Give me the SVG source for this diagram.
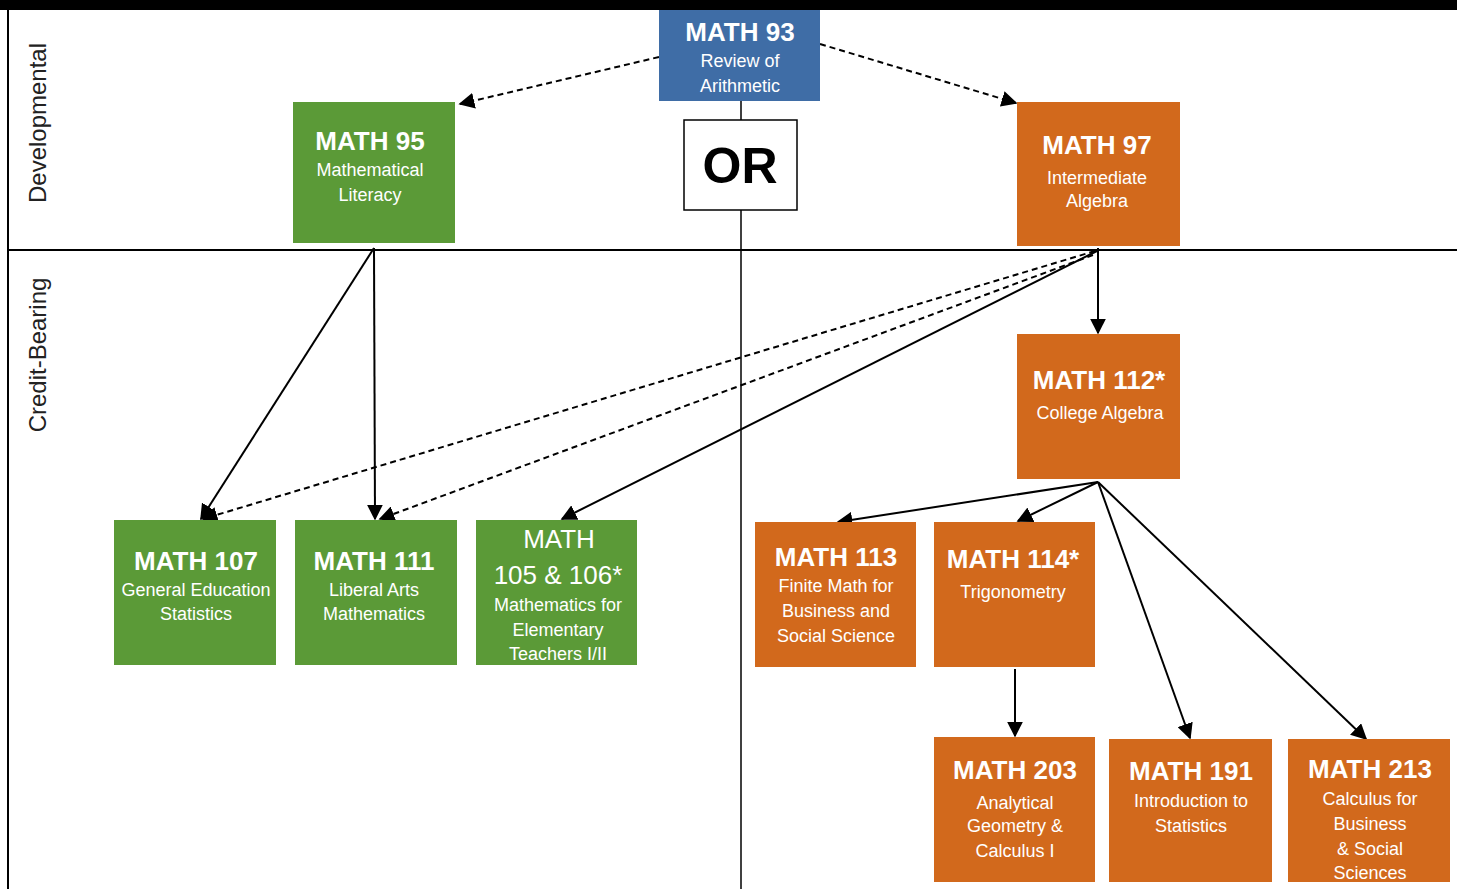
<svg xmlns="http://www.w3.org/2000/svg" width="1457" height="889" viewBox="0 0 1457 889">
<style>
.g{fill:#5B9A37}
.o{fill:#D2691C}
.b{fill:#3F6DA6}
.t{font-family:"Liberation Sans",Arial,sans-serif;font-weight:bold;font-size:26px;fill:#fff;text-anchor:middle}
.s{font-family:"Liberation Sans",Arial,sans-serif;font-size:18px;fill:#fff;text-anchor:middle}
.r{font-family:"Liberation Sans",Arial,sans-serif;font-size:26px;fill:#fff;text-anchor:middle}
.lab{font-family:"Liberation Sans",Arial,sans-serif;font-size:24px;fill:#222;text-anchor:middle}
.c{stroke:#000;stroke-width:2;fill:none;marker-end:url(#ah)}
.d{stroke-dasharray:6 4}
</style>
<defs>
<marker id="ah" viewBox="0 0 10 10" refX="9" refY="5" markerWidth="8" markerHeight="8" orient="auto" markerUnits="strokeWidth">
<path d="M0,0 L10,5 L0,10 z" fill="#000"/>
</marker>
</defs>
<rect x="0" y="0" width="1457" height="889" fill="#fff"/>
<g id="frame">
<rect x="0" y="0" width="1457" height="10" fill="#000"/>
<line x1="8" y1="10" x2="8" y2="889" stroke="#000" stroke-width="2"/>
<line x1="8" y1="250" x2="1457" y2="250" stroke="#000" stroke-width="2"/>
<line x1="741" y1="100" x2="741" y2="120" stroke="#000" stroke-width="1.5"/>
<line x1="741" y1="210" x2="741" y2="889" stroke="#000" stroke-width="1.5"/>
<text class="lab" transform="translate(46,123) rotate(-90)">Developmental</text>
<text class="lab" transform="translate(46,355) rotate(-90)">Credit-Bearing</text>
</g>
<g id="connectors">
<line class="c d" x1="659" y1="57" x2="460" y2="104"/>
<line class="c d" x1="820" y1="44" x2="1016" y2="103"/>
<line class="c" x1="374" y1="248" x2="201" y2="519"/>
<line class="c" x1="374" y1="248" x2="375" y2="519"/>
<line class="c d" x1="1095" y1="251" x2="203" y2="519"/>
<line class="c d" x1="1093" y1="255" x2="380" y2="519"/>
<line class="c" x1="1097" y1="251" x2="562" y2="519"/>
<line class="c" x1="1098" y1="248" x2="1098" y2="333"/>
<line class="c" x1="1098" y1="482" x2="838" y2="522"/>
<line class="c" x1="1098" y1="482" x2="1018" y2="521"/>
<line class="c" x1="1098" y1="482" x2="1190" y2="738"/>
<line class="c" x1="1098" y1="482" x2="1366" y2="739"/>
<line class="c" x1="1015" y1="669" x2="1015" y2="736"/>
</g>
<g id="math93">
<rect class="b" x="659" y="10" width="161" height="91"/>
<text class="t" x="740" y="41">MATH 93</text>
<text class="s" x="740" y="67">Review of</text>
<text class="s" x="740" y="92">Arithmetic</text>
</g>
<g id="or">
<rect x="684" y="120" width="113" height="90" fill="#fff" stroke="#000" stroke-width="1.5"/>
<text x="740" y="183" font-family="Liberation Sans,Arial,sans-serif" font-weight="bold" font-size="50" text-anchor="middle" fill="#000">OR</text>
</g>
<g id="math95">
<rect class="g" x="293" y="102" width="162" height="141"/>
<text class="t" x="370" y="150">MATH 95</text>
<text class="s" x="370" y="176">Mathematical</text>
<text class="s" x="370" y="201">Literacy</text>
</g>
<g id="math97">
<rect class="o" x="1017" y="102" width="163" height="144"/>
<text class="t" x="1097" y="154">MATH 97</text>
<text class="s" x="1097" y="184">Intermediate</text>
<text class="s" x="1097" y="207">Algebra</text>
</g>
<g id="math112">
<rect class="o" x="1017" y="334" width="163" height="145"/>
<text class="t" x="1099" y="389">MATH 112*</text>
<text class="s" x="1100" y="419">College Algebra</text>
</g>
<g id="math107">
<rect class="g" x="114" y="520" width="162" height="145"/>
<text class="t" x="196" y="570">MATH 107</text>
<text class="s" x="196" y="596">General Education</text>
<text class="s" x="196" y="620">Statistics</text>
</g>
<g id="math111">
<rect class="g" x="295" y="520" width="162" height="145"/>
<text class="t" x="374" y="570">MATH 111</text>
<text class="s" x="374" y="596">Liberal Arts</text>
<text class="s" x="374" y="620">Mathematics</text>
</g>
<g id="math105">
<rect class="g" x="476" y="520" width="161" height="145"/>
<text class="r" x="559" y="548">MATH</text>
<text class="r" x="558" y="584">105 &amp; 106*</text>
<text class="s" x="558" y="611">Mathematics for</text>
<text class="s" x="558" y="636">Elementary</text>
<text class="s" x="558" y="660">Teachers I/II</text>
</g>
<g id="math113">
<rect class="o" x="755" y="522" width="161" height="145"/>
<text class="t" x="836" y="566">MATH 113</text>
<text class="s" x="836" y="592">Finite Math for</text>
<text class="s" x="836" y="617">Business and</text>
<text class="s" x="836" y="642">Social  Science</text>
</g>
<g id="math114">
<rect class="o" x="934" y="522" width="161" height="145"/>
<text class="t" x="1013" y="568">MATH 114*</text>
<text class="s" x="1013" y="598">Trigonometry</text>
</g>
<g id="math203">
<rect class="o" x="934" y="737" width="161" height="145"/>
<text class="t" x="1015" y="779">MATH 203</text>
<text class="s" x="1015" y="809">Analytical</text>
<text class="s" x="1015" y="832">Geometry &amp;</text>
<text class="s" x="1015" y="857">Calculus I</text>
</g>
<g id="math191">
<rect class="o" x="1109" y="739" width="163" height="143"/>
<text class="t" x="1191" y="780">MATH 191</text>
<text class="s" x="1191" y="807">Introduction to</text>
<text class="s" x="1191" y="832">Statistics</text>
</g>
<g id="math213">
<rect class="o" x="1288" y="739" width="162" height="143"/>
<text class="t" x="1370" y="778">MATH 213</text>
<text class="s" x="1370" y="805">Calculus for</text>
<text class="s" x="1370" y="830">Business</text>
<text class="s" x="1370" y="855">&amp; Social</text>
<text class="s" x="1370" y="879">Sciences</text>
</g>
</svg>
